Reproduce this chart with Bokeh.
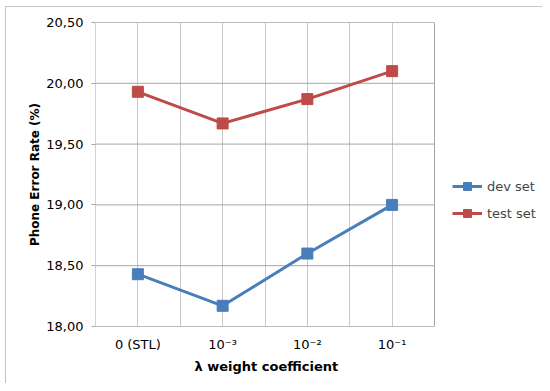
from bokeh.plotting import figure
from bokeh.models import Range1d, FixedTicker, Legend, LegendItem, Title
from bokeh.embed import file_html
from bokeh.resources import INLINE

categories = ["0 (STL)", "10⁻³", "10⁻²", "10⁻¹"]
dev_set = [18.43, 18.17, 18.60, 19.00]
test_set = [19.93, 19.67, 19.87, 20.10]
y_ticks = [18.0, 18.5, 19.0, 19.5, 20.0, 20.5]
x_title = "λ weight coefficient"
y_title = "Phone Error Rate (%)"

n = len(categories)
xs = list(range(1, n + 1))
FONT = "DejaVu Sans"
BORDER = "#c4c4c4"
FRAME_COLOR = "#a6a6a6"
GRID_COLOR = "#c8c8c8"

FIG_W, FIG_H = 542, 383
LEFT, TOP, BOTTOM = 95, 22, 57
DATA_W = 339  # pixel width of the plotting area; frame extends to the right for the legend

x_lo, x_hi = 0.5, n + 0.5
x_end = x_lo + (x_hi - x_lo) * (FIG_W - LEFT) / DATA_W

p = figure(width=FIG_W, height=FIG_H, output_backend="svg", toolbar_location=None,
           x_range=Range1d(x_lo, x_end), y_range=Range1d(y_ticks[0], y_ticks[-1]),
           min_border_left=LEFT, min_border_right=0, min_border_top=TOP, min_border_bottom=BOTTOM,
           styles={"background-color": "white",
                   "background-image": f"linear-gradient({BORDER},{BORDER}), linear-gradient({BORDER},{BORDER})",
                   "background-size": "1px 100%, 100% 1px",
                   "background-position": "5px 6px, 5px 6px",
                   "background-repeat": "no-repeat"})

p.border_fill_color = None
p.background_fill_color = "white"
p.outline_line_color = None

# vertical grid lines (interior)
p.xgrid.ticker = FixedTicker(ticks=[x_lo + 0.5 * i for i in range(1, 2 * n)])
p.xgrid.grid_line_color = GRID_COLOR
p.ygrid.grid_line_color = None

# horizontal grid lines limited to the plotting area
p.segment(x0=[x_lo] * len(y_ticks), y0=y_ticks, x1=[x_hi] * len(y_ticks), y1=y_ticks,
          line_color=FRAME_COLOR, line_width=1)
# plot-area box
p.quad(left=[x_lo], right=[x_hi], bottom=[y_ticks[0]], top=[y_ticks[-1]],
       fill_color=None, line_color=FRAME_COLOR, line_width=1)

# x axis
p.xaxis.ticker = FixedTicker(ticks=xs)
p.xaxis.major_label_overrides = {x: c for x, c in zip(xs, categories)}
p.xaxis.major_tick_out = 0
p.xaxis.major_tick_in = 0
p.xaxis.minor_tick_out = 0
p.xaxis.axis_line_color = None
p.xaxis.major_label_standoff = 10

# x axis title centred under the plotting area
p.add_layout(Title(text=x_title, align="left", offset=99, standoff=4,
                   text_font=FONT, text_font_size="13px", text_font_style="bold",
                   text_color="#000000"), "below")

# y axis
p.yaxis.ticker = FixedTicker(ticks=y_ticks)
p.yaxis.major_label_overrides = {t: f"{t:.2f}".replace(".", ",") for t in y_ticks}
p.yaxis.major_tick_out = 4
p.yaxis.major_tick_in = 0
p.yaxis.minor_tick_out = 0
p.yaxis.major_tick_line_color = FRAME_COLOR
p.yaxis.axis_line_color = None
p.yaxis.major_label_standoff = 8
p.yaxis.axis_label = y_title
p.yaxis.axis_label_standoff = 1

for ax in (p.xaxis[0], p.yaxis[0]):
    ax.major_label_text_font = FONT
    ax.major_label_text_font_size = "13px"
    ax.major_label_text_color = "#000000"
    ax.axis_label_text_font = FONT
    ax.axis_label_text_font_size = "12px"
    ax.axis_label_text_font_style = "bold"
    ax.axis_label_text_color = "#000000"

dev_color = "#4a7ebb"
test_color = "#be4b48"

l1 = p.line(xs, dev_set, line_color=dev_color, line_width=3)
m1 = p.scatter(xs, dev_set, marker="square", size=11, fill_color=dev_color, line_color=dev_color)
l2 = p.line(xs, test_set, line_color=test_color, line_width=3)
m2 = p.scatter(xs, test_set, marker="square", size=11, fill_color=test_color, line_color=test_color)

legend = Legend(items=[LegendItem(label="dev set", renderers=[l1, m1]),
                       LegendItem(label="test set", renderers=[l2, m2])],
                location=(357, 103), padding=0, margin=0, spacing=7,
                glyph_width=30, glyph_height=20, label_standoff=5,
                border_line_color=None, background_fill_alpha=0,
                label_text_font=FONT, label_text_font_size="13px")
p.add_layout(legend, "center")

open("out.html", "w").write(file_html(p, INLINE))
